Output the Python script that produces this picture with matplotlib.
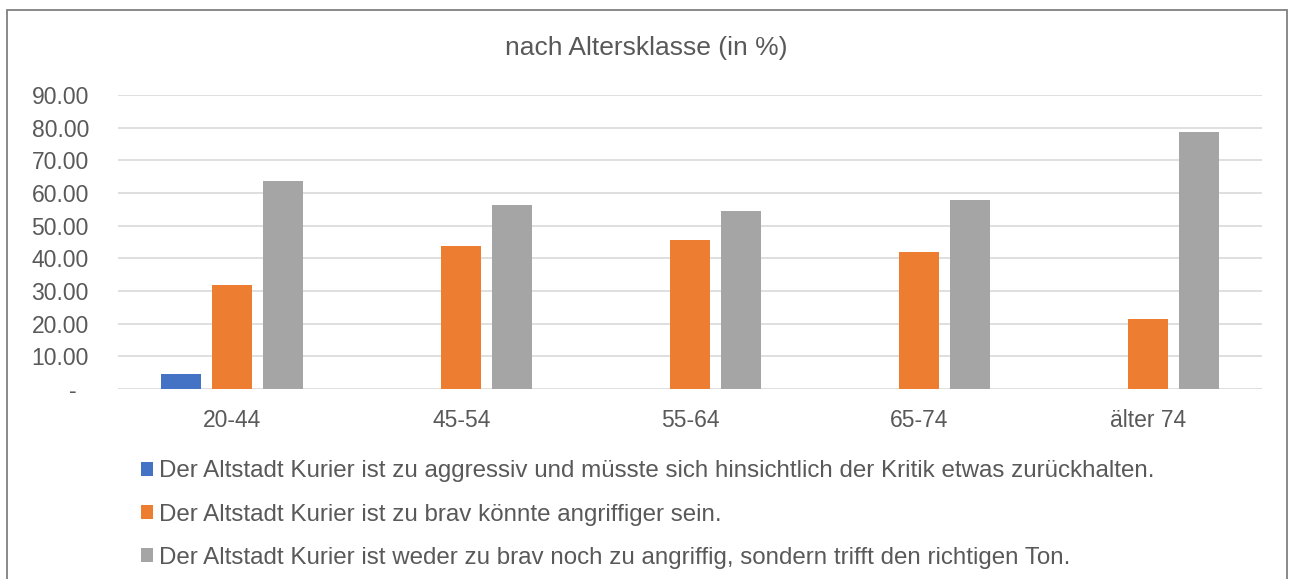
import numpy as np
import matplotlib.pyplot as plt
from matplotlib.patches import Rectangle
from matplotlib.ticker import FuncFormatter

# Daten
altersklassen = ["20-44", "45-54", "55-64", "65-74", "älter 74"]
zu_aggressiv = [4.6, 0, 0, 0, 0]
zu_brav = [31.8, 43.7, 45.6, 42.0, 21.4]
richtiger_ton = [63.6, 56.3, 54.4, 58.0, 78.6]
serien_namen = [
    "Der Altstadt Kurier ist zu aggressiv und müsste sich hinsichtlich der Kritik etwas zurückhalten.",
    "Der Altstadt Kurier ist zu brav könnte angriffiger sein.",
    "Der Altstadt Kurier ist weder zu brav noch zu angriffig, sondern trifft den richtigen Ton.",
]
farben = ["#4472C4", "#ED7D31", "#A5A5A5"]
textfarbe = "#595959"

plt.rcParams['font.family'] = ['Liberation Sans', 'DejaVu Sans']

fig = plt.figure(figsize=(12.93, 5.79), dpi=100)
ax = fig.add_axes([0.0913, 0.328, 0.8847, 0.508])

x = np.arange(len(altersklassen))
breite = 0.175
abstand = 0.223
for i, werte in enumerate([zu_aggressiv, zu_brav, richtiger_ton]):
    ax.bar(x + (i - 1) * abstand, werte, width=breite, color=farben[i],
           label=serien_namen[i], zorder=3)

ax.set_xlim(-0.5, len(altersklassen) - 0.5)
ax.set_ylim(0, 90)
ax.set_yticks(np.arange(0, 91, 10))
ax.yaxis.set_major_formatter(FuncFormatter(lambda v, p: "-  " if v == 0 else f"{v:.2f}"))
ax.set_xticks(x)
ax.set_xticklabels(altersklassen)
ax.grid(axis="y", color="#d9d9d9", linewidth=1.2, zorder=0)
for s in ax.spines.values():
    s.set_visible(False)
ax.tick_params(axis="y", length=0, pad=21, labelsize=16.5, labelcolor=textfarbe)
ax.tick_params(axis="x", length=0, pad=14, labelsize=16.5, labelcolor=textfarbe)

fig.text(0.5, 0.917, "nach Altersklasse (in %)", ha="center", va="center",
         fontsize=19, color=textfarbe)

leg = fig.legend(loc="upper left", bbox_to_anchor=(0.109, 0.205), frameon=False,
                 fontsize=17.4, labelspacing=0.88, handlelength=0.5, handleheight=0.5,
                 handletextpad=0.25, borderpad=0, borderaxespad=0)
for t in leg.get_texts():
    t.set_color(textfarbe)

# Rahmen (unten offen, wie im Ausschnitt)
fig.patches.append(Rectangle((0.0054, -0.02), 0.99, 1.003, transform=fig.transFigure,
                             fill=False, edgecolor="#808080", linewidth=1.3))

fig.savefig("out.png", dpi=100)
